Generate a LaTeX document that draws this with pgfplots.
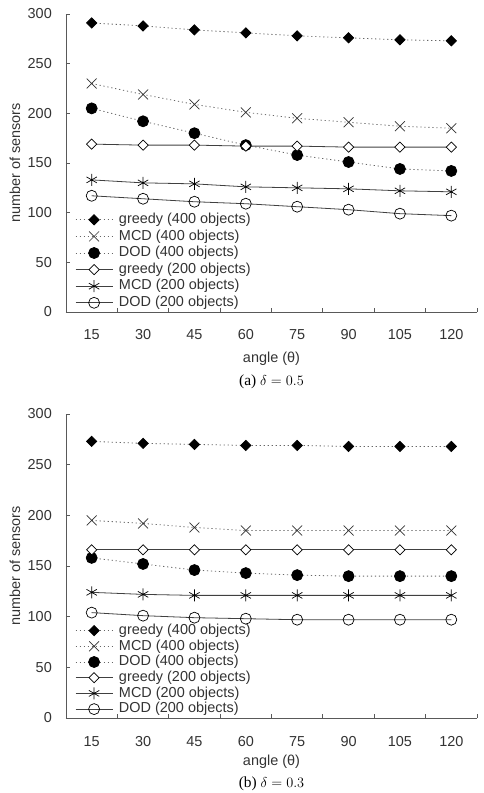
\documentclass[border=0pt]{standalone}
\usepackage{pgfplots}
\pgfplotsset{compat=1.18}
\usepackage{fontspec}
\setmainfont{Liberation Sans}
\newfontfamily\capfont{Liberation Serif}
\begin{document}
\begin{tikzpicture}
\path[use as bounding box] (-66bp,-481bp) rectangle (418bp,312bp);
\pgfplotsset{
  mystyle/.style={
    scale only axis, width=411bp, clip=false,
    xmin=-0.5, xmax=7.5, ymin=0, ymax=300,
    axis x line*=bottom, axis y line*=left,
    axis line style={draw=black!65, line width=0.8bp},
    xtick={0,...,7}, xticklabels={15,30,45,60,75,90,105,120},
    minor xtick={0.5,1.5,...,7.5},
    major x tick style={draw=none},
    minor tick length=4bp, major tick length=4bp,
    tick align=inside,
    ytick={0,50,...,300},
    tick style={draw=black!65, line width=0.8bp},
    font=\fontsize{14.5}{17}\selectfont,
    /pgf/number format/assume math mode=true,
    xticklabel style={anchor=center, inner sep=0pt, text=black!80},
    yticklabel style={anchor=east, inner sep=0pt, xshift=-14bp, text=black!80},
    ylabel={number of sensors},
    ylabel style={at={([xshift=-51bp]axis description cs:0,0.5)}, anchor=center, rotate=0, text=black!80},
    xlabel={angle (θ)},
    xlabel style={anchor=center, text=black!80},
    legend style={draw=none, fill=none, font=\fontsize{14.5}{17}\selectfont,
      at={(axis description cs:0,0)}, anchor=south west, inner sep=0pt,
      column sep=6bp, text=black!80,
      nodes={inner sep=0pt, text height=11bp, text depth=3.5bp}},
    legend cell align=left,
    legend image code/.code={\draw[mark repeat=2, mark phase=2] plot coordinates {(0bp,0bp) (18.5bp,0bp) (37bp,0bp)};},
    dotline/.style={draw=black!60, line width=0.8bp, dash pattern=on 1.2bp off 2.8bp},
    solline/.style={draw=black!75, line width=0.8bp},
    gd/.style={dotline, mark=square*, mark size=3.6bp, mark options={solid, rotate=45, fill=black, draw=black}},
    md/.style={dotline, mark=x, mark size=7bp, mark options={solid, draw=black!80, line width=0.7bp}},
    dd/.style={dotline, mark=*, mark size=5.5bp, mark options={solid, fill=black, draw=black}},
    gs/.style={solline, mark=square*, mark size=3.6bp, mark options={solid, rotate=45, fill=white, draw=black, line width=0.7bp}},
    ms/.style={solline, mark=asterisk, mark size=6bp, mark options={solid, draw=black, line width=0.7bp}},
    ds/.style={solline, mark=o, mark size=5.5bp, mark options={solid, fill=white, draw=black, line width=0.7bp}},
  }
}
% ---------- (a) ----------
\begin{axis}[mystyle, height=298bp, at={(0,0)},
  xticklabel style={yshift=-23bp},
  xlabel style={at={([yshift=-47bp]axis description cs:0.5,0)}},
  legend style={xshift=9bp, yshift=1.75bp, row sep=2.1bp}]
\addplot[gd] coordinates {(0,291) (1,288) (2,284) (3,281) (4,278) (5,276) (6,274) (7,273)};
\addlegendentry{greedy (400 objects)}
\addplot[md] coordinates {(0,230) (1,219) (2,209) (3,201) (4,195) (5,191) (6,187) (7,185)};
\addlegendentry{MCD (400 objects)}
\addplot[dd] coordinates {(0,205) (1,192) (2,180) (3,168) (4,158) (5,151) (6,144) (7,142)};
\addlegendentry{DOD (400 objects)}
\addplot[gs] coordinates {(0,169) (1,168) (2,168) (3,167) (4,167) (5,166) (6,166) (7,166)};
\addlegendentry{greedy (200 objects)}
\addplot[ms] coordinates {(0,133) (1,130) (2,129) (3,126) (4,125) (5,124) (6,122) (7,121)};
\addlegendentry{MCD (200 objects)}
\addplot[ds] coordinates {(0,117) (1,114) (2,111) (3,109) (4,106) (5,103) (6,99) (7,97)};
\addlegendentry{DOD (200 objects)}
\node[font=\capfont\fontsize{15.5}{17}\selectfont] at ([yshift=-70bp]axis description cs:0.5,0) {(a) $\delta = 0.5$};
\end{axis}
% ---------- (b) ----------
\begin{axis}[mystyle, height=304bp, at={(0,-406bp)},
  xticklabel style={yshift=-24bp},
  xlabel style={at={([yshift=-44bp]axis description cs:0.5,0)}},
  legend style={xshift=9bp, yshift=1.45bp, row sep=1.2bp}]
\addplot[gd] coordinates {(0,273) (1,271) (2,270) (3,269) (4,269) (5,268) (6,268) (7,268)};
\addlegendentry{greedy (400 objects)}
\addplot[md] coordinates {(0,195) (1,192) (2,188) (3,185) (4,185) (5,185) (6,185) (7,185)};
\addlegendentry{MCD (400 objects)}
\addplot[dd] coordinates {(0,158) (1,152) (2,146) (3,143) (4,141) (5,140) (6,140) (7,140)};
\addlegendentry{DOD (400 objects)}
\addplot[gs] coordinates {(0,166) (1,166) (2,166) (3,166) (4,166) (5,166) (6,166) (7,166)};
\addlegendentry{greedy (200 objects)}
\addplot[ms] coordinates {(0,124) (1,122) (2,121) (3,121) (4,121) (5,121) (6,121) (7,121)};
\addlegendentry{MCD (200 objects)}
\addplot[ds] coordinates {(0,104) (1,101) (2,99) (3,98) (4,97) (5,97) (6,97) (7,97)};
\addlegendentry{DOD (200 objects)}
\node[font=\capfont\fontsize{15.5}{17}\selectfont] at ([yshift=-66bp]axis description cs:0.5,0) {(b) $\delta = 0.3$};
\end{axis}
\end{tikzpicture}
\end{document}
